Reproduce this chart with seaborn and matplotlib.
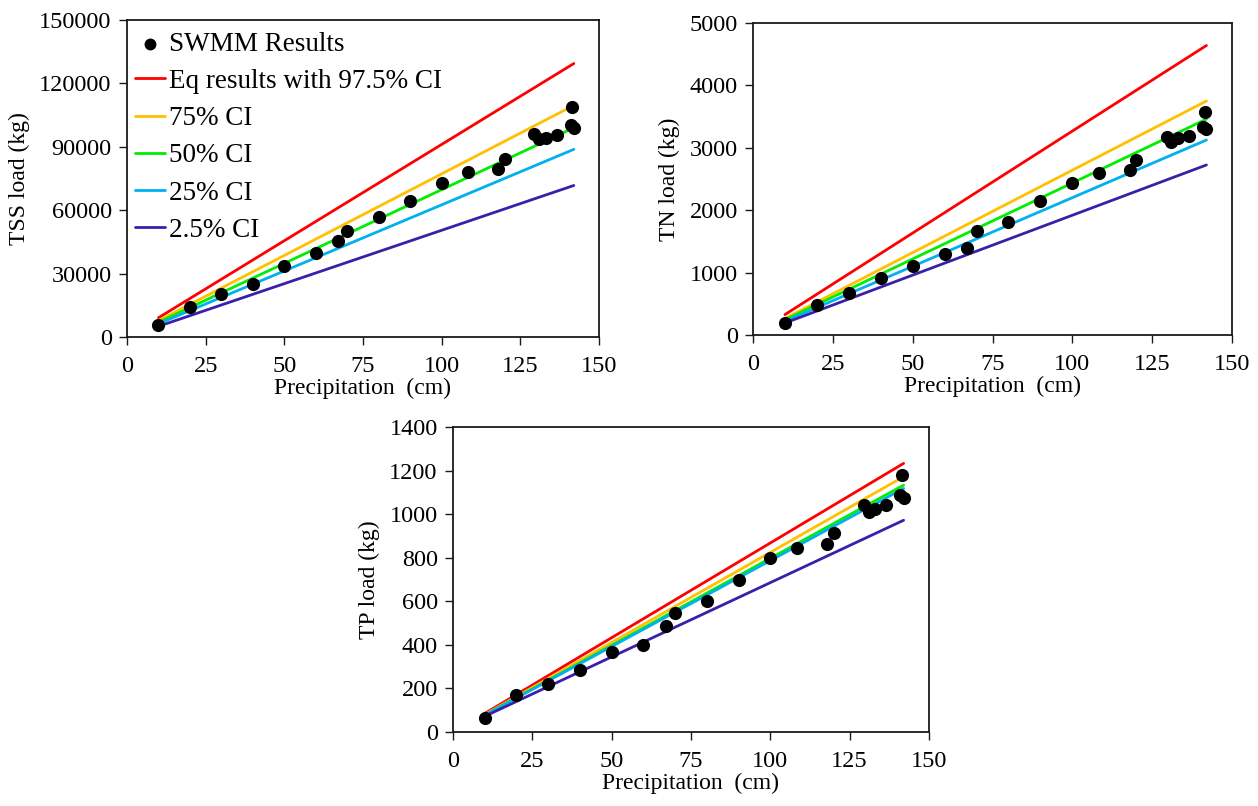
import matplotlib
matplotlib.use("Agg")
import matplotlib.pyplot as plt
import seaborn as sns
import pandas as pd
import numpy as np

# ---------------- data ----------------
precip = [10, 20, 30, 40, 50, 60, 67, 70, 80, 90, 100, 108.5, 118, 120,
          129.5, 131, 133, 136.5, 141.5, 141, 142]

tss_swmm = [5800, 14300, 20400, 25100, 33500, 39600, 45200, 50000, 57000, 64400,
            72800, 78300, 79300, 84000, 96200, 93500, 94300, 95400, 108800, 100500, 98900]
tn_swmm = [197, 481, 668, 918, 1106, 1293, 1399, 1671, 1806, 2147,
           2441, 2591, 2644, 2804, 3178, 3098, 3152, 3194, 3574, 3338, 3296]
tp_swmm = [62, 169, 220, 284, 366, 399, 488, 545, 603, 699,
           799, 845, 863, 914, 1044, 1009, 1024, 1040, 1179, 1090, 1075]

line_x = [10, 142]
ci_labels = ["Eq results with 97.5% CI", "75% CI", "50% CI", "25% CI", "2.5% CI"]
ci_colors = ["#FF0000", "#FFC000", "#00EE00", "#00B0F0", "#3A1FAA"]

tss_ci_start = [9110, 7720, 6970, 6250, 5050]
tss_ci_end = [129400, 109600, 99000, 88800, 71700]
tn_ci_start = [327, 264, 244, 220, 192]
tn_ci_end = [4640, 3750, 3460, 3125, 2725]
tp_ci_start = [85, 80, 78, 77, 72]
tp_ci_end = [1233, 1172, 1133, 1118, 972]

x_ticks = [0, 25, 50, 75, 100, 125, 150]
tss_yticks = [0, 30000, 60000, 90000, 120000, 150000]
tn_yticks = [0, 1000, 2000, 3000, 4000, 5000]
tp_yticks = [0, 200, 400, 600, 800, 1000, 1200, 1400]

# ---------------- style ----------------
sns.set_theme(style="ticks")
plt.rcParams['font.family'] = ['Liberation Serif', 'DejaVu Serif']
plt.rcParams['axes.edgecolor'] = '#1a1a1a'
plt.rcParams['axes.linewidth'] = 1.3
plt.rcParams['text.color'] = 'black'
plt.rcParams['axes.labelcolor'] = 'black'

fig = plt.figure(figsize=(12.58, 8.06), dpi=100)
W, H = 1258, 806


def make_ax(l, r, t, b):
    return fig.add_axes([l / W, 1 - b / H, (r - l) / W, (b - t) / H])


panels = [
    (make_ax(127, 599, 20, 337), tss_swmm, tss_ci_start, tss_ci_end, tss_yticks, "TSS load (kg)", True),
    (make_ax(753, 1232, 23, 335), tn_swmm, tn_ci_start, tn_ci_end, tn_yticks, "TN load (kg)", False),
    (make_ax(453, 929, 427, 732), tp_swmm, tp_ci_start, tp_ci_end, tp_yticks, "TP load (kg)", False),
]

for ax, swmm, cs, ce, yt, ylab, legend in panels:
    for lab, col, s0, s1 in zip(ci_labels, ci_colors, cs, ce):
        df_line = pd.DataFrame({"x": line_x, "y": [s0, s1]})
        sns.lineplot(data=df_line, x="x", y="y", color=col, linewidth=2.0,
                     ax=ax, label=lab if legend else None, zorder=2)
    df_pts = pd.DataFrame({"x": precip, "y": swmm})
    sns.scatterplot(data=df_pts, x="x", y="y", color="black", s=90,
                    edgecolor="black", linewidth=0, ax=ax, zorder=3,
                    label="SWMM Results" if legend else None)
    ax.set_xlim(0, 150)
    ax.set_ylim(yt[0], yt[-1])
    ax.set_xticks(x_ticks)
    ax.set_yticks(yt)
    ax.set_xticklabels([str(v) for v in x_ticks])
    ax.set_yticklabels([str(v) for v in yt])
    ax.tick_params(direction="out", length=6, width=1.0, labelsize=17.5,
                   colors="#1a1a1a", labelcolor="black")
    ax.tick_params(axis="x", pad=8)
    ax.tick_params(axis="y", pad=5)
    ax.set_xlabel("Precipitation  (cm)", fontsize=17, labelpad=0)
    ax.set_ylabel(ylab, fontsize=17, labelpad=7)
    for sp in ax.spines.values():
        sp.set_visible(True)
    if legend:
        handles, labels = ax.get_legend_handles_labels()
        order = [labels.index("SWMM Results")] + [labels.index(l) for l in ci_labels]
        leg = ax.legend([handles[i] for i in order], [labels[i] for i in order],
                        loc="upper left", bbox_to_anchor=(-0.005, 0.997),
                        borderaxespad=0.0, frameon=False, fontsize=19.5,
                        handlelength=1.1, handletextpad=0.15, labelspacing=0.45,
                        markerscale=0.9)
    elif ax.get_legend() is not None:
        ax.get_legend().remove()

fig.savefig("out.png", dpi=100)
